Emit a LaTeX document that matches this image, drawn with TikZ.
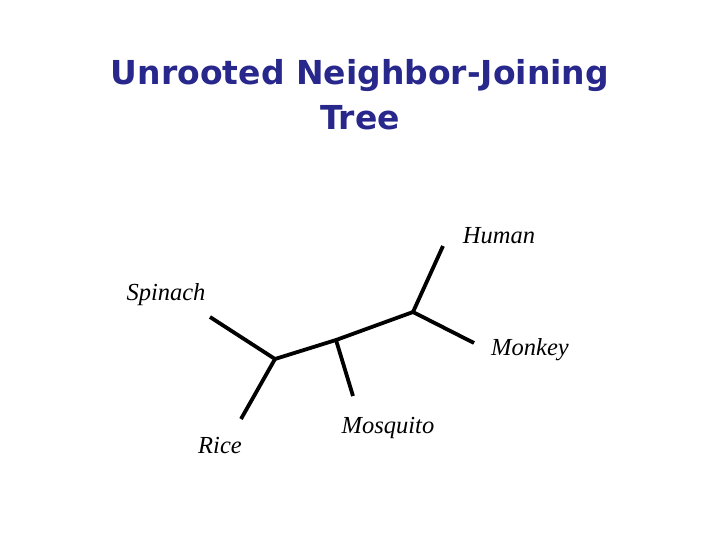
\documentclass[tikz,border=0pt]{standalone}
\usepackage{fontspec}
\setmainfont{Liberation Serif}
\newfontfamily\titlefont{DejaVu Sans}
\definecolor{titleblue}{RGB}{40,40,140}

\tikzset{every picture/.style={line width=0.75pt}}
\tikzset{branch/.style={line width=3.8pt,line cap=butt},
  taxon/.style={inner sep=0pt,font=\fontsize{24.5}{28}\selectfont\itshape}}

\begin{document}
\begin{tikzpicture}[x=1pt,y=1pt,yscale=-1,xscale=1]
%set diagram from (0,0) to (720,540)
\useasboundingbox (0,0) rectangle (720,540);
\fill [white] (0,0) rectangle (720,540);

% Title
\node (title) [align=center,text=titleblue,inner sep=0pt,font=\titlefont\bfseries\fontsize{33}{45}\selectfont] at (360,95) {Unrooted Neighbor-Joining\\Tree};

% inner nodes of the tree
\coordinate (jleft) at (275,359);
\coordinate (jmid) at (336,340);
\coordinate (jright) at (413,312);
% leaf ends
\coordinate (lspinach) at (210,317);
\coordinate (lrice) at (241,419);
\coordinate (lmosquito) at (353,396);
\coordinate (lhuman) at (443,246);
\coordinate (lmonkey) at (474,343);

% Branches
\draw [branch] (lspinach) -- (jleft) -- (lrice);
\draw [branch] (jleft) -- (jmid) -- (jright);
\draw [branch] (jmid) -- (lmosquito);
\draw [branch] (lhuman) -- (jright) -- (lmonkey);

% Text Nodes
\node (human) [taxon] at (499,236) {Human};
\node (spinach) [taxon] at (166,295) {Spinach};
\node (monkey) [taxon] at (530,350) {Monkey};
\node (mosquito) [taxon] at (388,428) {Mosquito};
\node (rice) [taxon] at (220,446) {Rice};

\end{tikzpicture}
\end{document}
